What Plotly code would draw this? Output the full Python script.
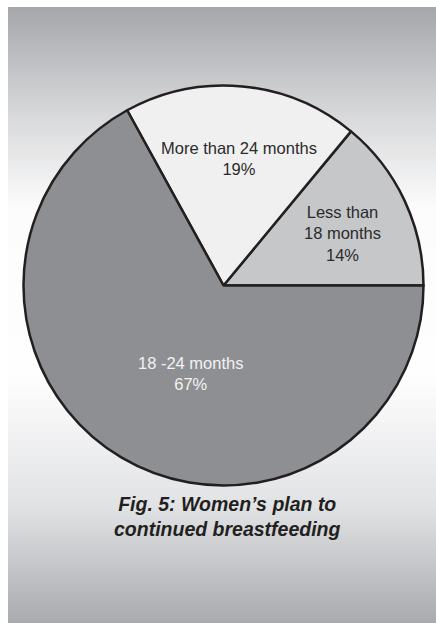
import plotly.graph_objects as go

# ---- data ----
categories = ["Less than 18 months", "More than 24 months", "18 -24 months"]
label_lines = ["Less than<br>18 months", "More than 24 months", "18 -24 months"]
values = [14, 19, 67]
slice_colors = ["#c6c7c9", "#f0f0f0", "#8e8f93"]
text_colors = ["#2b2b2b", "#2b2b2b", "#f2f2f2"]
caption = "Fig. 5: Women’s plan to<br>continued breastfeeding"

W, H = 436, 623

# first slice should begin at 3 o'clock and run counterclockwise
rot = 90 - 360 * values[0] / sum(values)

fig = go.Figure()
fig.add_trace(go.Pie(
    labels=categories,
    values=values,
    sort=False,
    direction="counterclockwise",
    rotation=rot,
    marker=dict(colors=slice_colors, line=dict(color="#231f20", width=2.5)),
    textinfo="none",
    hoverinfo="label+percent",
    showlegend=False,
    domain=dict(x=[23.5 / W, 423.5 / W], y=[1 - 485.5 / H, 1 - 85.5 / H]),
))

# ---- gradient panel background (styling) ----
def shade(y):
    stops = [(7, (165, 166, 170)), (107, (212, 213, 215)), (210, (252, 252, 252)),
             (375, (254, 254, 254)), (507, (225, 226, 228)), (623, (169, 170, 174))]
    for (y0, c0), (y1, c1) in zip(stops[:-1], stops[1:]):
        if y0 <= y <= y1:
            t = (y - y0) / (y1 - y0)
            return tuple(round(a + (b - a) * t) for a, b in zip(c0, c1))
    return stops[-1][1]

shapes = []
step = 3
y = 7
while y < H:
    y2 = min(y + step, H)
    r, g, b = shade((y + y2) / 2)
    shapes.append(dict(type="rect", xref="paper", yref="paper",
                       x0=8 / W, x1=1, y0=1 - y2 / H, y1=1 - y / H,
                       fillcolor=f"rgb({r},{g},{b})", line=dict(width=0),
                       layer="below"))
    y = y2

# ---- slice labels ----
label_pos = [(342, 233), (239, 158), (190, 373)]
annotations = []
for lab, v, col, (px, py) in zip(label_lines, values, text_colors, label_pos):
    annotations.append(dict(
        text=f"{lab}<br>{v}%", x=px / W, y=1 - py / H, xref="paper", yref="paper",
        showarrow=False, xanchor="center", yanchor="middle", align="center",
        font=dict(family="Arial, Liberation Sans, sans-serif", size=16.5, color=col)))

annotations.append(dict(
    text=f"<b><i>{caption}</i></b>", x=227 / W, y=1 - 516 / H, xref="paper", yref="paper",
    showarrow=False, xanchor="center", yanchor="middle", align="center",
    font=dict(family="Arial, Liberation Sans, sans-serif", size=19.5, color="#231f20")))

fig.update_layout(
    width=W, height=H,
    margin=dict(l=0, r=0, t=0, b=0),
    paper_bgcolor="white",
    plot_bgcolor="white",
    shapes=shapes,
    annotations=annotations,
)

fig.write_html("out.html")
